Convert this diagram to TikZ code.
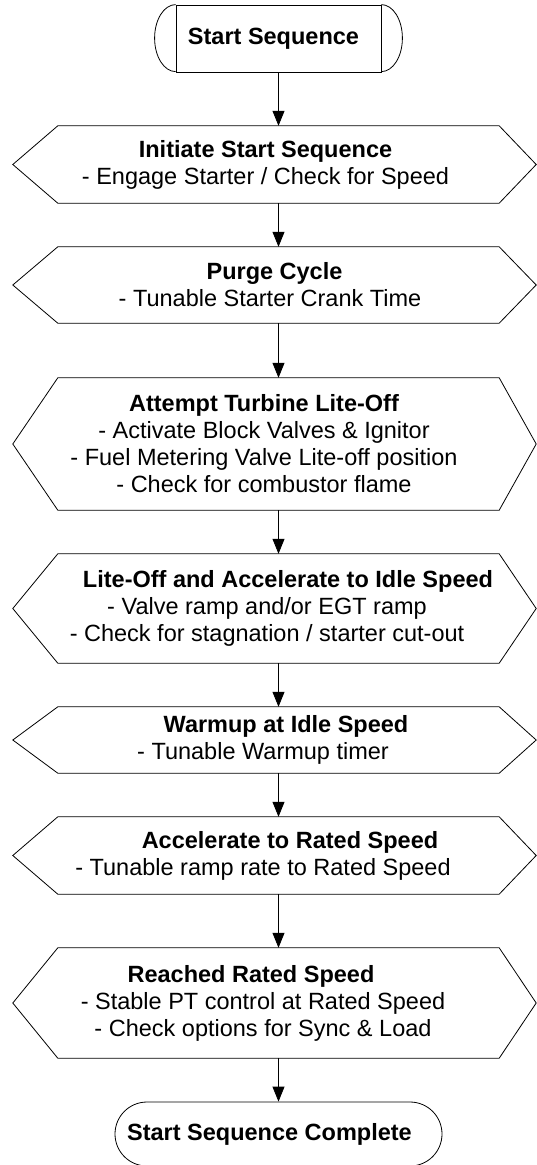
\documentclass[tikz,border=0pt]{standalone}
\usepackage{fontspec}
\setmainfont{Liberation Sans}
\usetikzlibrary{arrows.meta,shapes.misc}
\newcommand\sh[2]{\makebox[0pt]{\hspace*{#1}#2}}
\tikzset{
  line/.style={line width=0.8pt, black},
  arr/.style={line, -{Triangle[length=15pt,width=12pt]}},
  hexin/.style={rectangle, inner sep=0pt, minimum width=441pt},
  txt/.style={align=center, inner sep=0pt, font=\fontsize{23.5}{27}\selectfont},
  termbox/.style={line, draw, rectangle, inner sep=0pt, minimum width=205pt, minimum height=67pt, font=\fontsize{23.5}{27}\selectfont\bfseries},
  endbox/.style={line, draw, rounded rectangle, inner sep=0pt, minimum width=327pt, minimum height=64pt, font=\fontsize{23.5}{27}\selectfont\bfseries}
}
\newcommand\hexshape[3]{%
  \node[hexin, minimum height=#3pt] (#1) at (278.5,#2) {};
  \draw[line] (#1.north west) -- (#1.north east) -- ([xshift=37pt]#1.east) -- (#1.south east) -- (#1.south west) -- ([xshift=-45pt]#1.west) -- cycle;}
\begin{document}
\begin{tikzpicture}[x=1pt,y=-1pt]
\useasboundingbox (0,0) rectangle (537,1165);
% start terminator
\node[termbox] (start) at (278.5,38.5) {\sh{-10pt}{Start Sequence}};
\draw[line] (start.north west) arc[start angle=90, end angle=270, x radius=21pt, y radius=33.5pt];
\draw[line] (start.north east) arc[start angle=90, end angle=-90, x radius=21pt, y radius=33.5pt];
% hexagons
\hexshape{h1}{164.5}{77}
\node[txt] (t1) at (265.5,164.5) {\textbf{Initiate Start Sequence}\\- Engage Starter / Check for Speed};
\hexshape{h2}{285}{76}
\node[txt] (t2) at (270,285) {\sh{9pt}{\textbf{Purge Cycle}}\\- Tunable Starter Crank Time};
\hexshape{h3}{444}{132}
\node[txt] (t3) at (264,444) {\textbf{Attempt Turbine Lite-Off}\\- Activate Block Valves \& Ignitor\\- Fuel Metering Valve Lite-off position\\- Check for combustor flame};
\hexshape{h4}{608.5}{109}
\node[txt] (t4) at (267,608.5) {\sh{42pt}{\textbf{Lite-Off and Accelerate to Idle Speed}}\\- Valve ramp and/or EGT ramp\\- Check for stagnation / starter cut-out};
\hexshape{h5}{740}{66}
\node[txt] (t5) at (263,740) {\sh{46pt}{\textbf{Warmup at Idle Speed}}\\- Tunable Warmup timer};
\hexshape{h6}{855.5}{77}
\node[txt] (t6) at (263,855.5) {\sh{54pt}{\textbf{Accelerate to Rated Speed}}\\- Tunable ramp rate to Rated Speed};
\hexshape{h7}{1003}{110}
\node[txt] (t7) at (263,1003) {\sh{-24pt}{\textbf{Reached Rated Speed}}\\- Stable PT control at Rated Speed\\- Check options for Sync \& Load};
% end terminator
\node[endbox] (end) at (278.5,1134) {\sh{-18pt}{Start Sequence Complete}};
% connectors
\draw[arr] (start.south) -- (h1.north);
\draw[arr] (h1.south) -- (h2.north);
\draw[arr] (h2.south) -- (h3.north);
\draw[arr] (h3.south) -- (h4.north);
\draw[arr] (h4.south) -- (h5.north);
\draw[arr] (h5.south) -- (h6.north);
\draw[arr] (h6.south) -- (h7.north);
\draw[arr] (h7.south) -- (end.north);
\end{tikzpicture}
\end{document}
